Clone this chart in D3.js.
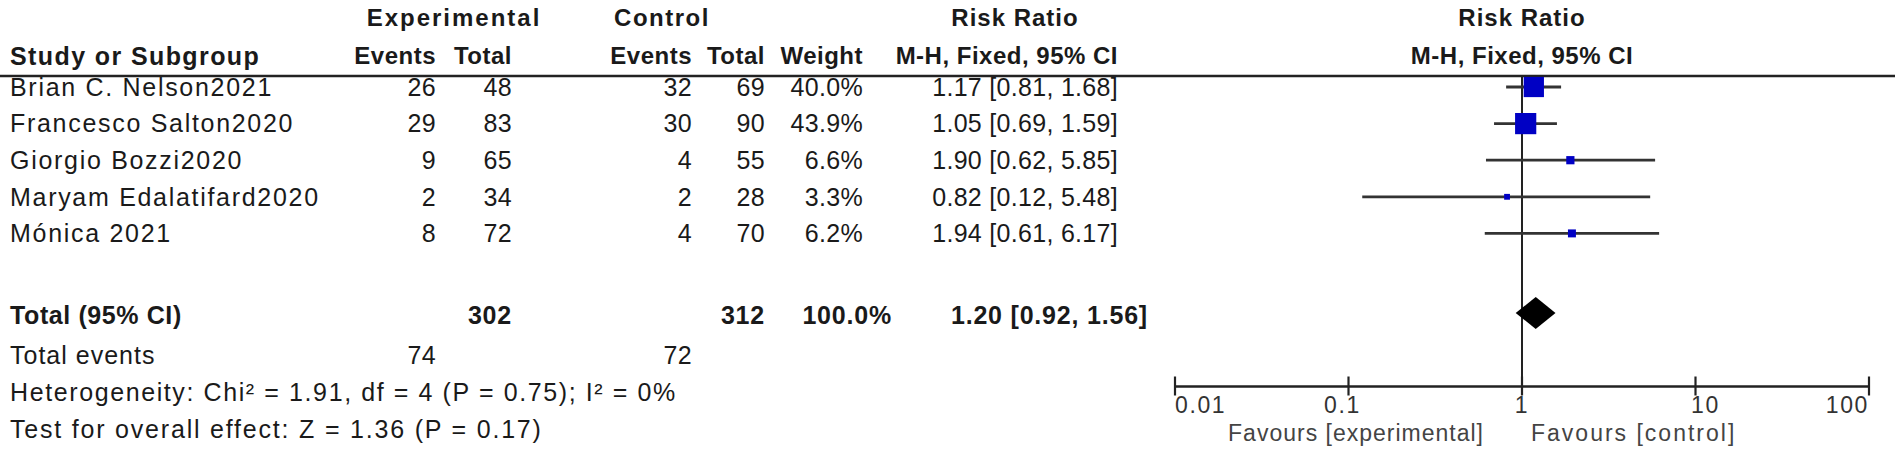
<!DOCTYPE html>
<html>
<head>
<meta charset="utf-8">
<script src="https://cdn.jsdelivr.net/npm/d3@7"></script>
<style>
  html, body { margin: 0; padding: 0; background: #fff; }
  svg { display: block; }
  text { font-family: "Liberation Sans", Arial, sans-serif; fill: #1a1a1a; }
</style>
</head>
<body>
<svg id="chart" width="1902" height="463"></svg>
<script>
// ---- data ----
const studies   = ["Brian C. Nelson2021", "Francesco Salton2020", "Giorgio Bozzi2020", "Maryam Edalatifard2020", "Mónica 2021"];
const expEvents = [26, 29, 9, 2, 8];
const expTotal  = [48, 83, 65, 34, 72];
const ctlEvents = [32, 30, 4, 2, 4];
const ctlTotal  = [69, 90, 55, 28, 70];
const weights   = [40.0, 43.9, 6.6, 3.3, 6.2];
const rr        = [1.17, 1.05, 1.90, 0.82, 1.94];
const ciLow     = [0.81, 0.69, 0.62, 0.12, 0.61];
const ciHigh    = [1.68, 1.59, 5.85, 5.48, 6.17];
const totalRow  = { exp: 302, ctl: 312, weight: 100.0, rr: 1.20, lo: 0.92, hi: 1.56 };
const totalEvents = [74, 72];
const axisTicks = [0.01, 0.1, 1, 10, 100];
const heterogeneity = "Heterogeneity: Chi² = 1.91, df = 4 (P = 0.75); I² = 0%";
const overallTest   = "Test for overall effect: Z = 1.36 (P = 0.17)";

// ---- layout ----
const svg = d3.select("#chart");
const FS = 25, LS = 1.7, FSB = 24, LSB = 0.5, LSN = 0.3;
const col = { name: 10, expE: 436, expT: 512, ctlE: 692, ctlT: 765, w: 863, rr: 1118 };
const rowY = d3.scaleLinear().domain([0, 1]).range([87, 123.6]);
const x = d3.scaleLog().domain([0.01, 100]).range([1175, 1869]);
const sq = d3.scaleSqrt().domain([0, 100]).range([0, 32]);
const ink = "#222";

function txt(str, xx, yc, anchor, bold, opts) {
  opts = opts || {};
  const size = opts.fs || (bold ? FSB : FS);
  return svg.append("text")
    .attr("x", xx).attr("y", yc + size * 0.35)
    .attr("text-anchor", anchor || "start")
    .attr("font-size", size)
    .attr("letter-spacing", opts.ls != null ? opts.ls : (bold ? LSB : LS))
    .attr("font-weight", bold ? "bold" : "normal")
    .style("fill", opts.color || "#1a1a1a")
    .text(str);
}
const num = { ls: LSN };

// headers
txt("Experimental", 454, 18, "middle", true, { ls: 2 });
txt("Control", 662, 18, "middle", true, { ls: 1.5 });
txt("Risk Ratio", 1015, 18, "middle", true, { ls: 1 });
txt("Risk Ratio", x(1), 18, "middle", true, { ls: 1 });
txt("Study or Subgroup", col.name, 56, "start", true, { fs: 25, ls: 1.4 });
txt("Events", col.expE, 56, "end", true);
txt("Total", col.expT, 56, "end", true);
txt("Events", col.ctlE, 56, "end", true);
txt("Total", col.ctlT, 56, "end", true);
txt("Weight", col.w, 56, "end", true);
txt("M-H, Fixed, 95% CI", col.rr, 56, "end", true);
txt("M-H, Fixed, 95% CI", x(1), 56, "middle", true);

// header rule
svg.append("line").attr("x1", 0).attr("x2", 1895).attr("y1", 76).attr("y2", 76)
  .attr("stroke", ink).attr("stroke-width", 2.5);

// study rows
const f2 = d3.format(".2f"), f1 = d3.format(".1f");
studies.forEach((s, i) => {
  const y = rowY(i);
  txt(s, col.name, y);
  txt(expEvents[i], col.expE, y, "end", false, num);
  txt(expTotal[i], col.expT, y, "end", false, num);
  txt(ctlEvents[i], col.ctlE, y, "end", false, num);
  txt(ctlTotal[i], col.ctlT, y, "end", false, num);
  txt(f1(weights[i]) + "%", col.w, y, "end", false, num);
  txt(`${f2(rr[i])} [${f2(ciLow[i])}, ${f2(ciHigh[i])}]`, col.rr, y, "end", false, num);
});

// total rows
const yTot = 315, yEv = 355, yHet = 392, yTest = 429;
txt("Total (95% CI)", col.name, yTot, "start", true, { fs: 25, ls: 0.6 });
txt(totalRow.exp, col.expT, yTot, "end", true, { fs: 25, ls: 0.8 });
txt(totalRow.ctl, col.ctlT, yTot, "end", true, { fs: 25, ls: 0.8 });
txt(f1(totalRow.weight) + "%", 892, yTot, "end", true, { fs: 25, ls: 0.8 });
txt(`${f2(totalRow.rr)} [${f2(totalRow.lo)}, ${f2(totalRow.hi)}]`, 1148, yTot, "end", true, { fs: 25, ls: 0.8 });
txt("Total events", col.name, yEv, "start", false, { ls: 1.0 });
txt(totalEvents[0], col.expE, yEv, "end", false, num);
txt(totalEvents[1], col.ctlE, yEv, "end", false, num);
txt(heterogeneity, col.name, yHet, "start", false, { ls: 1.6 });
txt(overallTest, col.name, yTest, "start", false, { ls: 1.8 });

// ---- forest plot ----
const axisY = 386;
// vertical line of no effect
svg.append("line").attr("x1", x(1)).attr("x2", x(1)).attr("y1", 76).attr("y2", axisY)
  .attr("stroke", ink).attr("stroke-width", 2);

const g = svg.append("g");
studies.forEach((s, i) => {
  const y = rowY(i);
  g.append("line").attr("x1", x(ciLow[i])).attr("x2", x(ciHigh[i]))
    .attr("y1", y).attr("y2", y).attr("stroke", "#333").attr("stroke-width", 2.8);
  const side = sq(weights[i]);
  g.append("rect").attr("x", x(rr[i]) - side / 2).attr("y", y - side / 2)
    .attr("width", side).attr("height", side).attr("fill", "#0000c4");
});

// diamond
const dy = 313, dh = 16;
g.append("path")
  .attr("d", `M${x(totalRow.lo)},${dy} L${x(totalRow.rr)},${dy - dh} L${x(totalRow.hi)},${dy} L${x(totalRow.rr)},${dy + dh} Z`)
  .attr("fill", "#000");

// axis
const axis = d3.axisBottom(x).tickValues(axisTicks).tickSize(0).tickFormat(d => String(d));
const ag = svg.append("g").attr("transform", `translate(0,${axisY})`).call(axis);
ag.select(".domain").attr("stroke", ink).attr("stroke-width", 2.5);
ag.selectAll(".tick text").remove();
const labelShift = [0, -6, 0, 10, 0];
axisTicks.forEach((t, i) => {
  ag.append("line").attr("x1", x(t)).attr("x2", x(t)).attr("y1", -9.5).attr("y2", 9.5)
    .attr("stroke", ink).attr("stroke-width", 2.2);
  const anchor = i === 0 ? "start" : i === axisTicks.length - 1 ? "end" : "middle";
  ag.append("text").attr("x", x(t) + labelShift[i]).attr("y", 27)
    .attr("text-anchor", anchor).attr("font-size", 23).attr("letter-spacing", 1.6)
    .style("fill", "#333").text(String(t));
});

txt("Favours [experimental]", 1484, 433, "end", false, { fs: 23, ls: 1.0, color: "#444" });
txt("Favours [control]", 1531, 433, "start", false, { fs: 23, ls: 2.0, color: "#444" });
</script>
</body>
</html>
